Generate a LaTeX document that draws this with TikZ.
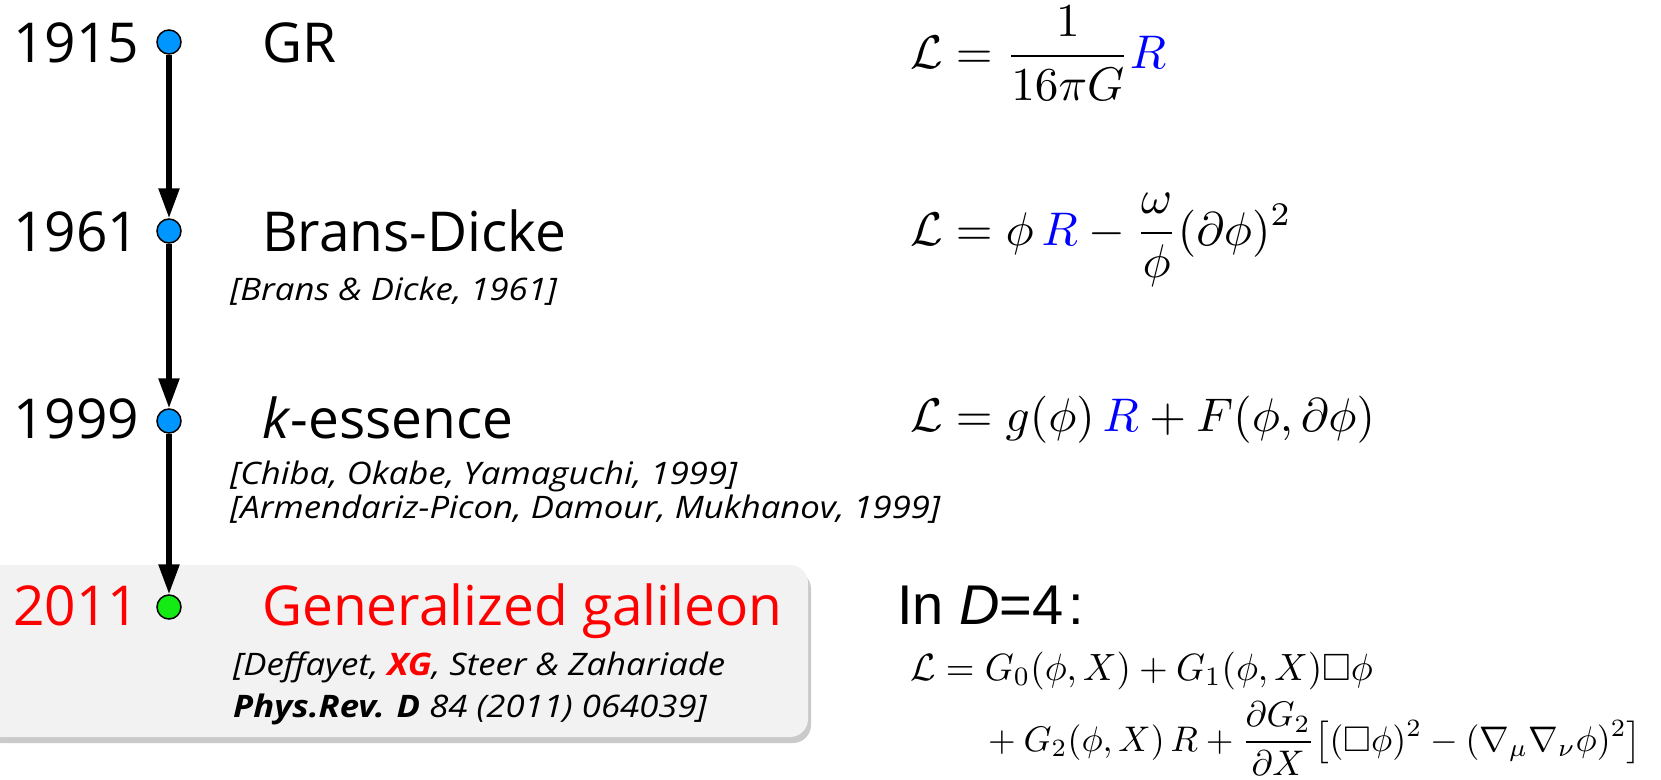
\documentclass[tikz,border=0pt]{standalone}
\usepackage{graphicx}
\usepackage{amssymb}
\usepackage[no-math]{fontspec}
\setmainfont{Open Sans}
\newfontfamily\citefont[FakeStretch=1.12]{Open Sans}
\newfontfamily\lsans{Liberation Sans}
\usetikzlibrary{arrows.meta,shadows}
\definecolor{dotblue}{RGB}{0,150,255}
\definecolor{dotgreen}{RGB}{20,235,20}
\definecolor{boxgrey}{RGB}{242,242,242}
\definecolor{Rblue}{RGB}{0,0,255}
\newcommand{\bigmath}[1]{\scalebox{4.72}{$\displaystyle #1$}}
\newcommand{\lineonemath}[1]{\scalebox{3.69}[3.8]{$\displaystyle #1$}}
\newcommand{\linetwomath}[1]{\scalebox{3.56}{$\displaystyle #1$}}
\tikzset{
  yeartext/.style={anchor=base west, inner sep=0pt, font=\fontsize{55}{62}\selectfont},
  titletext/.style={anchor=base west, inner sep=0pt, font=\fontsize{55}{62}\selectfont},
  citetext/.style={anchor=base west, inner sep=0pt, font=\citefont\fontsize{31}{36}\selectfont\itshape},
  eqn/.style={anchor=base west, inner sep=0pt},
  dot/.style={circle, draw=black, line width=1.5pt, minimum size=24pt, inner sep=0pt, fill=dotblue},
  timeline/.style={line width=5.5pt, -{Triangle[length=30pt,width=20pt]}},
  hlbox/.style={fill=boxgrey, rounded corners=18pt,
    drop shadow={shadow xshift=3pt, shadow yshift=-6pt, fill=black!60, opacity=0.35}},
}
\begin{document}
\begin{tikzpicture}[x=1pt,y=-1pt]
\useasboundingbox (0,0) rectangle (1661,779);
% highlight box
\path[hlbox] (-20,565) rectangle (808,737);
% years
\node[yeartext] (y1915) at (13,62) {1915};
\node[yeartext] (y1961) at (13,251) {1961};
\node[yeartext] (y1999) at (13,438) {1999};
\node[yeartext, text=red] (y2011) at (13,625) {2011};
% dots
\node[dot] (d1) at (169,42) {};
\node[dot] (d2) at (169,231) {};
\node[dot] (d3) at (169,421) {};
\node[dot, fill=dotgreen] (d4) at (169,607) {};
% timeline
\draw[timeline] (d1.south) -- (d2.north);
\draw[timeline] (d2.south) -- (d3.north);
\draw[timeline] (d3.south) -- (d4.north);
% titles
\node[titletext] (gr) at (262,62) {GR};
\node[titletext] (bd) at (262,251) {Brans-Dicke};
\node[titletext] (ke) at (262,438) {\textit{k}-essence};
\node[titletext, text=red] (gg) at (262,625) {Generalized galileon};
% citations
\node[citetext] (c1) at (230,300) {[Brans \& Dicke, 1961]};
\node[citetext] (c2) at (230,484) {[Chiba, Okabe, Yamaguchi, 1999]};
\node[citetext] (c3) at (230,518) {[Armendariz-Picon, Damour, Mukhanov, 1999]};
\node[citetext] (c4) at (233,675) {[Deffayet, \textbf{\color{red}XG}, Steer \& Zahariade};
\node[citetext] (c5) at (233,717) {\textbf{Phys.Rev. D} 84 (2011) 064039]};
% equations
\node[eqn] (e1) at (910,68) {\bigmath{\mathcal{L} = \frac{1}{16\pi G}\textcolor{Rblue}{R}}};
\node[eqn] (e2) at (910,245) {\bigmath{\mathcal{L} = \phi\,\textcolor{Rblue}{R} - \frac{\omega}{\phi}(\partial\phi)^2}};
\node[eqn] (e3) at (910,431) {\bigmath{\mathcal{L} = g(\phi)\,\textcolor{Rblue}{R} + F(\phi,\partial\phi)}};
\node[anchor=base west, inner sep=0pt, font=\lsans\fontsize{56}{64}\selectfont] (ind) at (897,624) {In \textit{D}=4\hspace{5pt}:};
\node[eqn] (e4a) at (910,680) {\lineonemath{\mathcal{L} = G_0(\phi,X) + G_1(\phi,X)\Box\phi}};
\node[eqn] (e4b) at (980,751) {\linetwomath{{}+ G_2(\phi,X)\,R + \frac{\partial G_2}{\partial X}\big[(\Box\phi)^2 - (\nabla_\mu\nabla_\nu\phi)^2\big]}};
\end{tikzpicture}
\end{document}
